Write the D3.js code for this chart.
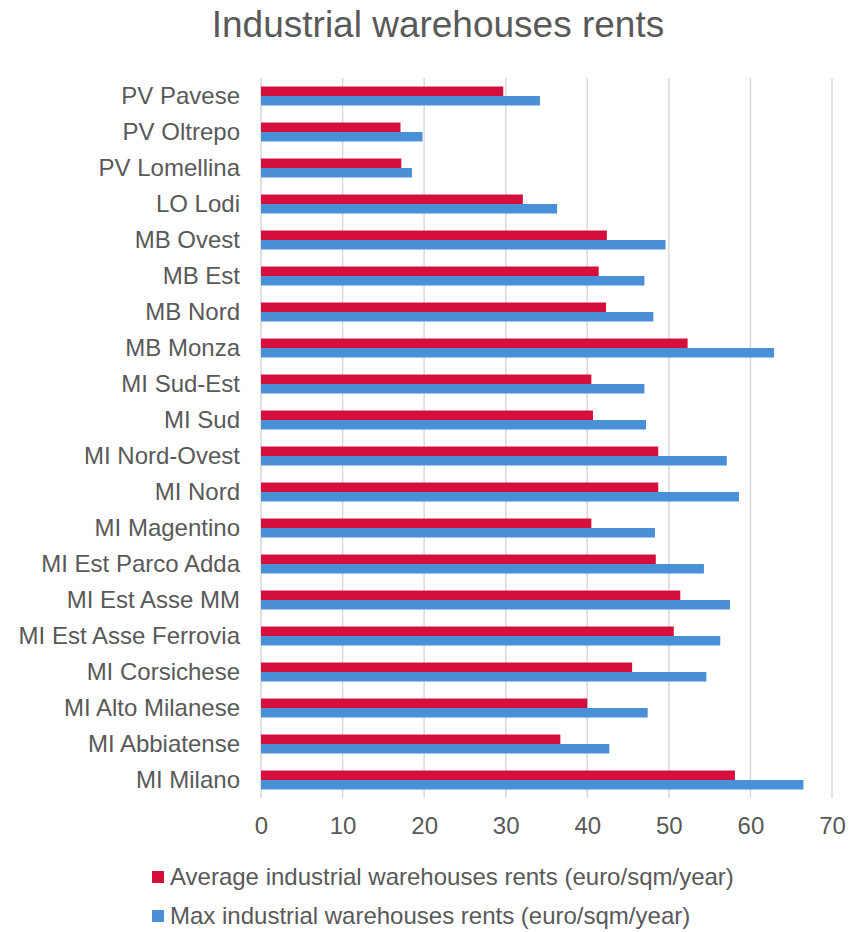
<!DOCTYPE html>
<html>
<head>
<meta charset="utf-8">
<script src="https://cdn.jsdelivr.net/npm/d3@7"></script>
<style>
  body { margin: 0; background: #fff; }
  text { font-family: "Liberation Sans", Arial, sans-serif; fill: #595959; }
</style>
</head>
<body>
<script>
// data, top row first
const categories = ["PV Pavese", "PV Oltrepo", "PV Lomellina", "LO Lodi", "MB Ovest", "MB Est",
  "MB Nord", "MB Monza", "MI Sud-Est", "MI Sud", "MI Nord-Ovest", "MI Nord", "MI Magentino",
  "MI Est Parco Adda", "MI Est Asse MM", "MI Est Asse Ferrovia", "MI Corsichese",
  "MI Alto Milanese", "MI Abbiatense", "MI Milano"];
const avgRents = [29.7, 17.1, 17.2, 32.1, 42.4, 41.4, 42.3, 52.3, 40.5, 40.7, 48.7, 48.7, 40.5,
  48.4, 51.4, 50.6, 45.5, 40.0, 36.7, 58.1];
const maxRents = [34.2, 19.8, 18.5, 36.3, 49.6, 47.0, 48.1, 62.9, 47.0, 47.2, 57.1, 58.6, 48.3,
  54.3, 57.5, 56.3, 54.6, 47.4, 42.7, 66.5];
const seriesNames = ["Average industrial warehouses rents (euro/sqm/year)",
  "Max industrial warehouses rents (euro/sqm/year)"];
const seriesColors = ["#d50f3c", "#4a90d9"];
const xTicks = [0, 10, 20, 30, 40, 50, 60, 70];

const W = 862, H = 932;
const mLeft = 261, mRight = 832, mTop = 78, mBottom = 798;

const svg = d3.select("body").append("svg")
  .attr("width", W).attr("height", H);

svg.append("text")
  .attr("x", 438).attr("y", 37)
  .attr("text-anchor", "middle")
  .style("font-size", "37px")
  .text("Industrial warehouses rents");

const x = d3.scaleLinear().domain([0, 70]).range([mLeft, mRight]);
const y = d3.scaleBand().domain(categories).range([mTop, mBottom]);
const inner = d3.scaleBand().domain([0, 1]).range([0, 19]);

// gridlines
svg.append("g").selectAll("line")
  .data(xTicks)
  .join("line")
  .attr("x1", d => x(d)).attr("x2", d => x(d))
  .attr("y1", mTop).attr("y2", mBottom)
  .attr("stroke", "#d9d9d9").attr("stroke-width", 1.5);

// bars
const rows = svg.append("g").selectAll("g")
  .data(categories)
  .join("g")
  .attr("transform", d => `translate(0,${y(d) + (y.bandwidth() - 19) / 2})`);

rows.selectAll("rect")
  .data((d, i) => [avgRents[i], maxRents[i]])
  .join("rect")
  .attr("x", x(0))
  .attr("y", (d, j) => inner(j))
  .attr("width", d => x(d) - x(0))
  .attr("height", inner.bandwidth())
  .attr("fill", (d, j) => seriesColors[j]);

// category labels
const yAxis = svg.append("g")
  .attr("transform", `translate(${mLeft},0)`)
  .call(d3.axisLeft(y).tickSize(0).tickPadding(21));
yAxis.select(".domain").remove();
yAxis.selectAll("text")
  .style("font-size", "24px")
  .attr("fill", "#595959");

// x axis labels
const xAxis = svg.append("g")
  .attr("transform", `translate(0,${mBottom})`)
  .call(d3.axisBottom(x).tickValues(xTicks).tickSize(0).tickPadding(19));
xAxis.select(".domain").remove();
xAxis.selectAll("text")
  .style("font-size", "24px")
  .attr("fill", "#595959");

// legend
const legend = svg.append("g").selectAll("g")
  .data(seriesNames)
  .join("g")
  .attr("transform", (d, i) => `translate(152,${877 + i * 39})`);
legend.append("rect")
  .attr("x", 0).attr("y", -6)
  .attr("width", 12).attr("height", 12)
  .attr("fill", (d, i) => seriesColors[i]);
legend.append("text")
  .attr("x", 18).attr("y", 0).attr("dy", "0.35em")
  .style("font-size", "24px")
  .text(d => d);
</script>
</body>
</html>
